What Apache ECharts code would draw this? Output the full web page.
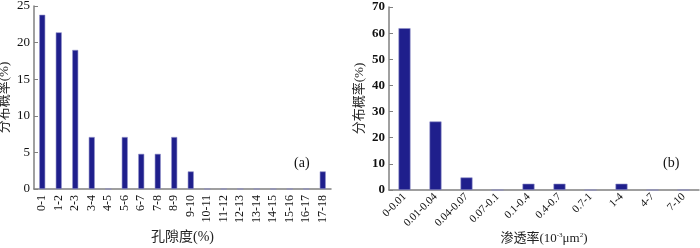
<!DOCTYPE html>
<html>
<head>
<meta charset="utf-8">
<script src="https://cdn.jsdelivr.net/npm/echarts@6/dist/echarts.min.js"></script>
<style>
    html, body { margin: 0; padding: 0; background: #fff; }
    #chart { width: 700px; height: 248px; }
</style>
</head>
<body>
<div id="chart"></div>
<script>
// 孔隙度分布
var porosityCats = ['0-1', '1-2', '2-3', '3-4', '4-5', '5-6', '6-7', '7-8', '8-9', '9-10',
    '10-11', '11-12', '12-13', '13-14', '14-15', '15-16', '16-17', '17-18'];
var porosityVals = [23.8, 21.4, 19.0, 7.1, 0, 7.1, 4.8, 4.8, 7.1, 2.4, 0, 0, 0, 0, 0, 0, 0, 2.4];
var porosityTicks = [0, 5, 10, 15, 20, 25];

// 渗透率分布
var permCats = ['0-0.01', '0.01-0.04', '0.04-0.07', '0.07-0.1', '0.1-0.4', '0.4-0.7', '0.7-1', '1-4', '4-7', '7-10'];
var permVals = [61.9, 26.2, 4.8, 0, 2.4, 2.4, 0, 2.4, 0, 0];
var permTicks = [0, 10, 20, 30, 40, 50, 60, 70];

var serif = '"Liberation Serif", "Noto Sans CJK SC", serif';
var axisGray = '#808080';
var barColor = '#1f1f8c';

function yAxisOf(idx, ticks, bold) {
    return {
        type: 'value',
        gridIndex: idx,
        min: ticks[0],
        max: ticks[ticks.length - 1],
        interval: ticks[1] - ticks[0],
        name: '分布概率(%)',
        nameLocation: 'middle',
        nameGap: 23,
        nameMoveOverlap: false,
        nameTextStyle: { fontFamily: serif, fontSize: 13, color: '#222' },
        axisLine: { show: true, lineStyle: { color: axisGray, width: 1.5 } },
        axisTick: { show: true, inside: true, length: 4, lineStyle: { color: axisGray } },
        axisLabel: { fontFamily: serif, fontSize: 13, color: '#111', margin: 4, fontWeight: bold ? 'bold' : 'normal' },
        splitLine: { show: false }
    };
}

var myChart = echarts.init(document.getElementById('chart'));
var option = {
    animation: false,
    grid: [
        { left: 34, top: 6, width: 297, height: 183, outerBoundsMode: 'none' },
        { left: 389, top: 7, width: 310, height: 183, outerBoundsMode: 'none' }
    ],
    xAxis: [
        {
            type: 'category',
            gridIndex: 0,
            data: porosityCats,
            name: '孔隙度(%)',
            nameLocation: 'middle',
            nameGap: 41,
            nameMoveOverlap: false,
            nameTextStyle: { fontFamily: serif, fontSize: 14, color: '#222' },
            axisLine: { lineStyle: { color: axisGray, width: 1.5 } },
            axisTick: { inside: true, length: 4, lineStyle: { color: axisGray } },
            axisLabel: { rotate: 90, interval: 0, fontFamily: serif, fontSize: 12, color: '#111', margin: 6 }
        },
        {
            type: 'category',
            gridIndex: 1,
            data: permCats,
            name: '{n|渗透率(10}{s|-3}{n|μm}{s|2}{n|)}',
            nameLocation: 'middle',
            nameGap: 42,
            nameMoveOverlap: false,
            nameTextStyle: {
                rich: {
                    n: { fontFamily: serif, fontSize: 13, color: '#222' },
                    s: { fontFamily: serif, fontSize: 7, color: '#222', verticalAlign: 'top', padding: [0, 0, 6, 0] }
                }
            },
            axisLine: { lineStyle: { color: axisGray, width: 1.5 } },
            axisTick: { inside: true, length: 4, lineStyle: { color: axisGray } },
            axisLabel: { rotate: 45, interval: 0, fontFamily: serif, fontSize: 11, color: '#111', margin: 5 }
        }
    ],
    yAxis: [
        yAxisOf(0, porosityTicks, false),
        yAxisOf(1, permTicks, true)
    ],
    graphic: [
        { type: 'text', left: 294, top: 156, style: { text: '(a)', font: '14px "Liberation Serif"', fill: '#111' } },
        { type: 'text', left: 663, top: 156, style: { text: '(b)', font: '14px "Liberation Serif"', fill: '#111' } }
    ],
    series: [
        {
            type: 'bar',
            xAxisIndex: 0,
            yAxisIndex: 0,
            data: porosityVals,
            barWidth: 6,
            itemStyle: { color: barColor, borderColor: '#8f8fc8', borderWidth: 0.6 }
        },
        {
            type: 'bar',
            xAxisIndex: 1,
            yAxisIndex: 1,
            data: permVals,
            barWidth: 12,
            itemStyle: { color: barColor, borderColor: '#8f8fc8', borderWidth: 0.6 }
        }
    ]
};
myChart.setOption(option);
</script>
</body>
</html>
